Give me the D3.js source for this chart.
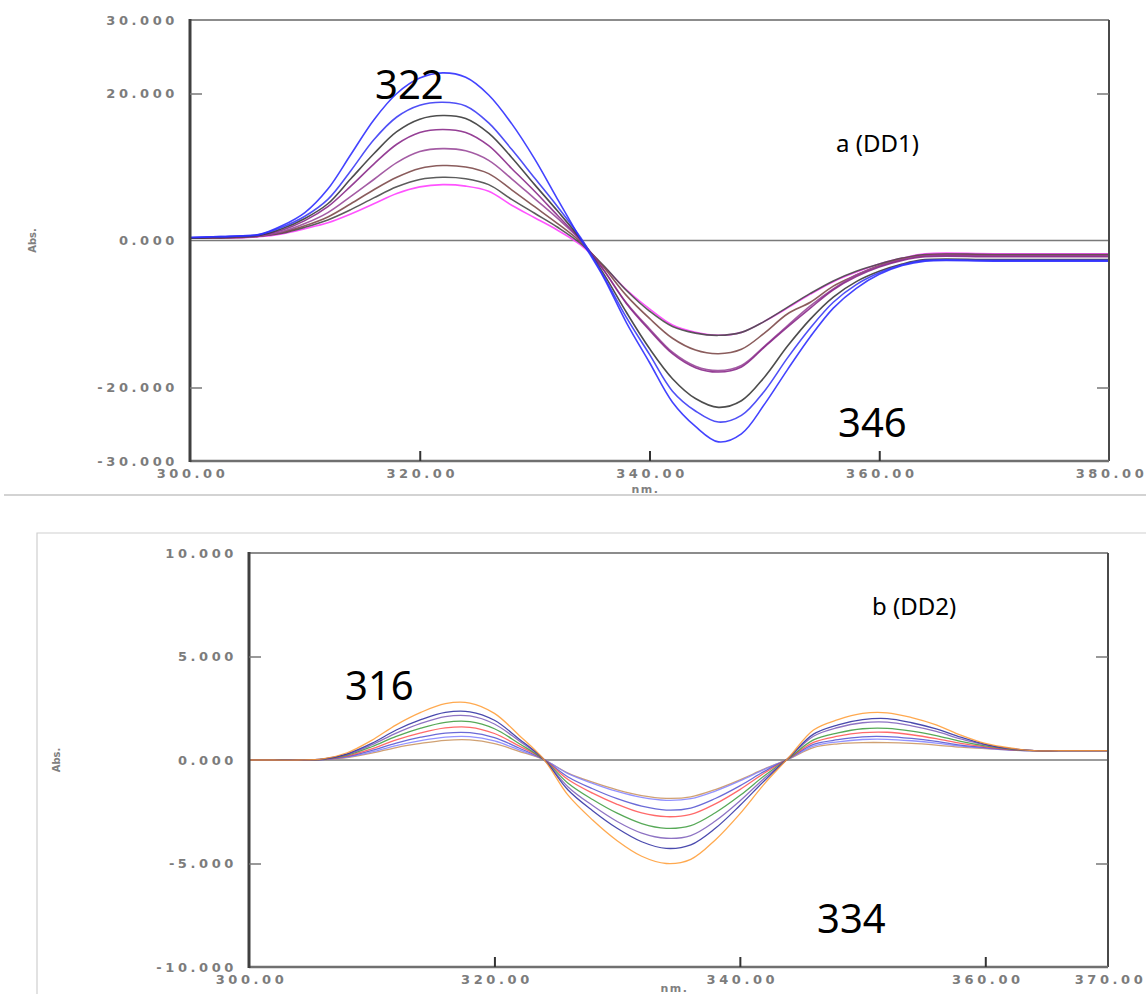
<!DOCTYPE html>
<html>
<head>
<meta charset="utf-8">
<script src="https://cdn.jsdelivr.net/npm/d3@7"></script>
<style>
  body { margin: 0; background: #fff; }
  .tick text {
    font-family: "DejaVu Sans", sans-serif;
    font-weight: bold;
    font-size: 13px;
    fill: #7c7c7c;
    letter-spacing: 3.6px;
  }
  .axlabel { font-family: "DejaVu Sans", sans-serif; font-weight: bold; fill: #808080; }
  .big { font-family: "Noto Sans", "Liberation Sans", sans-serif; fill: #000; }
</style>
</head>
<body>
<svg id="chart" width="1146" height="994"></svg>
<script>
// ---- panel a (DD1) ----
const wlA = [300, 302, 304, 306, 308, 310, 312, 314, 316, 318, 320, 322, 324, 326, 328, 330, 332, 334,
  336, 338, 340, 342, 344, 346, 348, 350, 352, 354, 356, 358, 360, 362, 364, 370, 380];
const blue1A = [0.4, 0.5, 0.6, 0.8, 2.0, 3.8, 7.0, 11.7, 16.4, 20.0, 22.1, 22.8, 22.2, 19.8, 15.9, 11.1, 5.6, 0.2,
  -5.0, -11.2, -16.6, -22.0, -25.3, -27.4, -26.3, -22.3, -17.6, -13.1, -9.2, -6.5, -4.6, -3.4, -2.8, -2.8, -2.8];
const blue2A = [0.4, 0.5, 0.6, 0.8, 1.8, 3.3, 5.6, 9.5, 13.7, 16.8, 18.4, 18.8, 18.3, 16.0, 12.4, 8.5, 4.6, 0.4,
  -4.8, -10.5, -15.5, -20.5, -23.2, -24.7, -23.8, -20.5, -16.0, -11.9, -8.4, -6.0, -4.4, -3.3, -2.7, -2.7, -2.7];
const blackA = [0.3, 0.4, 0.5, 0.7, 1.6, 3.0, 5.0, 8.4, 11.8, 14.8, 16.5, 17.0, 16.6, 14.6, 11.3, 7.6, 4.0, 0.2,
  -4.5, -9.8, -14.7, -18.8, -21.5, -22.7, -21.8, -18.6, -14.4, -10.7, -7.7, -5.6, -4.2, -3.2, -2.6, -2.6, -2.6];
const purple1A = [0.3, 0.4, 0.5, 0.7, 1.4, 2.7, 4.6, 7.4, 10.4, 13.1, 14.7, 15.1, 14.7, 12.9, 9.8, 6.7, 3.4, 0.1,
  -4.0, -8.6, -12.2, -15.4, -17.3, -17.9, -17.2, -14.5, -11.8, -9.2, -6.7, -4.9, -3.6, -2.7, -2.2, -2.2, -2.2];
const purple2A = [0.3, 0.4, 0.5, 0.6, 1.2, 2.3, 3.8, 6.0, 8.3, 10.6, 12.1, 12.5, 12.2, 10.9, 8.4, 5.7, 3.0, 0.0,
  -4.0, -8.5, -12.0, -15.2, -17.1, -17.7, -17.0, -14.4, -11.6, -8.9, -6.6, -4.7, -3.5, -2.6, -2.1, -2.1, -2.1];
const brownA = [0.3, 0.35, 0.4, 0.6, 1.1, 2.0, 3.2, 5.0, 6.9, 8.6, 9.8, 10.2, 10.0, 9.1, 6.9, 4.6, 2.3, -0.2,
  -3.6, -7.5, -10.6, -13.3, -14.9, -15.4, -14.8, -12.6, -10.0, -8.4, -6.2, -4.7, -3.4, -2.5, -2.0, -2.0, -2.0];
const grayA = [0.3, 0.35, 0.4, 0.6, 1.0, 1.8, 2.8, 4.2, 5.8, 7.3, 8.3, 8.6, 8.4, 7.6, 5.6, 3.7, 1.8, -0.4,
  -3.4, -6.8, -9.6, -11.7, -12.6, -12.9, -12.5, -11.0, -9.1, -7.2, -5.5, -4.2, -3.2, -2.4, -1.9, -1.9, -1.9];
const magentaA = [0.3, 0.3, 0.35, 0.5, 0.9, 1.6, 2.4, 3.6, 5.0, 6.4, 7.3, 7.6, 7.4, 6.7, 4.8, 3.1, 1.4, -0.6,
  -3.5, -6.7, -9.3, -11.5, -12.5, -12.9, -12.5, -11.0, -9.2, -7.3, -5.6, -4.3, -3.2, -2.4, -1.8, -1.8, -1.8];
const seriesA = [magentaA, grayA, brownA, purple2A, purple1A, blackA, blue2A, blue1A];
const colorsA = ["#ff40ff", "#4a4a4a", "#7d4a4a", "#9a4a9a", "#8a2a8a", "#3a3a3a", "#3c3cf5", "#2f2fff"];
const yTicksA = [30, 20, 0, -20, -30];
const xTicksA = [300, 320, 340, 360, 380];

// ---- panel b (DD2) ----
const wlB = [300, 302, 304, 306, 308, 310, 312, 314, 316, 318, 320, 322, 324, 326, 328, 330, 332, 334,
  336, 338, 340, 342, 344, 346, 348, 350, 352, 354, 356, 358, 360, 362, 364, 366, 370];
const orangeB = [0, 0, 0, 0.05, 0.35, 0.95, 1.7, 2.3, 2.72, 2.75, 2.25, 1.2, 0.05, -1.7, -2.9, -3.9, -4.65, -5.0,
  -4.8, -3.86, -2.6, -1.15, 0.13, 1.45, 1.95, 2.25, 2.28, 2.05, 1.7, 1.2, 0.8, 0.58, 0.45, 0.45, 0.45];
const navyB = [0, 0, 0, 0.04, 0.3, 0.8, 1.45, 1.95, 2.3, 2.33, 1.92, 1.02, 0.05, -1.45, -2.45, -3.3, -3.95, -4.27,
  -4.1, -3.3, -2.2, -1.0, 0.12, 1.25, 1.7, 1.95, 2.0, 1.8, 1.5, 1.1, 0.76, 0.56, 0.45, 0.45, 0.45];
const purpleB = [0, 0, 0, 0.04, 0.27, 0.73, 1.3, 1.77, 2.1, 2.13, 1.74, 0.93, 0.05, -1.3, -2.2, -2.97, -3.53, -3.78,
  -3.65, -2.95, -1.98, -0.88, 0.11, 1.15, 1.57, 1.8, 1.83, 1.65, 1.38, 1.02, 0.73, 0.55, 0.45, 0.45, 0.45];
const greenB = [0, 0, 0, 0.03, 0.23, 0.64, 1.14, 1.54, 1.82, 1.85, 1.51, 0.8, 0.04, -1.12, -1.91, -2.57, -3.07, -3.3,
  -3.17, -2.55, -1.72, -0.76, 0.09, 0.97, 1.31, 1.51, 1.53, 1.4, 1.18, 0.9, 0.68, 0.53, 0.45, 0.45, 0.45];
const redB = [0, 0, 0, 0.03, 0.2, 0.54, 0.97, 1.31, 1.55, 1.58, 1.28, 0.68, 0.04, -0.94, -1.6, -2.14, -2.56, -2.74,
  -2.63, -2.12, -1.43, -0.63, 0.08, 0.85, 1.15, 1.32, 1.34, 1.22, 1.03, 0.8, 0.63, 0.5, 0.45, 0.45, 0.45];
const blueB = [0, 0, 0, 0.02, 0.17, 0.46, 0.82, 1.1, 1.3, 1.32, 1.08, 0.58, 0.03, -0.82, -1.39, -1.87, -2.23, -2.42,
  -2.32, -1.86, -1.25, -0.55, 0.07, 0.75, 0.98, 1.12, 1.13, 1.04, 0.9, 0.72, 0.6, 0.5, 0.45, 0.45, 0.45];
const lightBlueB = [0, 0, 0, 0.02, 0.14, 0.39, 0.7, 0.94, 1.11, 1.13, 0.92, 0.49, 0.03, -0.66, -1.13, -1.52, -1.81, -1.95,
  -1.87, -1.5, -1.01, -0.45, 0.06, 0.67, 0.88, 0.99, 1.0, 0.93, 0.82, 0.67, 0.57, 0.48, 0.45, 0.45, 0.45];
const brownB = [0, 0, 0, 0.02, 0.12, 0.33, 0.6, 0.8, 0.95, 0.97, 0.79, 0.42, 0.02, -0.63, -1.07, -1.44, -1.72, -1.85,
  -1.78, -1.43, -0.96, -0.43, 0.05, 0.6, 0.78, 0.84, 0.84, 0.8, 0.72, 0.62, 0.55, 0.48, 0.45, 0.45, 0.45];
const seriesB = [brownB, lightBlueB, blueB, redB, greenB, purpleB, navyB, orangeB];
const colorsB = ["#c8905a", "#8080ff", "#5050d0", "#ff5050", "#3a9a3a", "#7a5ab8", "#2a2aa0", "#ff9a30"];
const yTicksB = [10, 5, 0, -5, -10];
const xTicksB = [300, 320, 340, 360, 370];

const svg = d3.select("#chart");

// separators from the pasted figure
svg.append("line").attr("x1", 4).attr("x2", 1146).attr("y1", 495).attr("y2", 495)
  .attr("stroke", "#c4c4c4").attr("stroke-width", 1.5);
svg.append("path").attr("d", "M37,994 L37,533 L1146,533")
  .attr("fill", "none").attr("stroke", "#cfcfcf").attr("stroke-width", 1.2);

function drawPanel(p) {
  const x = d3.scaleLinear().domain(p.xDomain).range(p.xRange);
  const y = d3.scaleLinear().domain(p.yDomain).range(p.yRange);
  const g = svg.append("g");
  const [x0, x1] = p.xRange;
  const [y0, y1] = p.yRange; // y0 = top, y1 = bottom

  // zero line
  g.append("line").attr("x1", x0).attr("x2", x1).attr("y1", y(0)).attr("y2", y(0))
    .attr("stroke", "#7a7a7a").attr("stroke-width", 1.6);

  // curves
  const line = d3.line()
    .x((d) => x(d[0]))
    .y((d) => y(d[1]))
    .curve(d3.curveCatmullRom.alpha(0.5));
  p.series.forEach((s, i) => {
    g.append("path")
      .datum(p.wl.map((w, j) => [w, s[j]]))
      .attr("fill", "none")
      .attr("stroke", p.colors[i])
      .attr("stroke-width", p.lw)
      .attr("stroke-opacity", p.op)
      .attr("stroke-linejoin", "round")
      .attr("d", line);
  });

  // frame
  g.append("line").attr("x1", x0).attr("x2", x1).attr("y1", y0).attr("y2", y0)
    .attr("stroke", "#8c8c8c").attr("stroke-width", 2);
  g.append("line").attr("x1", x1).attr("x2", x1).attr("y1", y0).attr("y2", y1)
    .attr("stroke", "#4a4a4a").attr("stroke-width", 2);
  g.append("line").attr("x1", x0).attr("x2", x1).attr("y1", y1).attr("y2", y1)
    .attr("stroke", "#707070").attr("stroke-width", 2.5);
  g.append("line").attr("x1", x0).attr("x2", x0).attr("y1", y0 - 1).attr("y2", y1 + 1)
    .attr("stroke", "#404040").attr("stroke-width", 3);

  // y axis labels + inward ticks
  const inner = p.yTicks.slice(1, -1).filter((v) => v !== 0);
  g.append("g").attr("transform", `translate(${x0},0)`)
    .call(d3.axisLeft(y).tickValues(p.yTicks).tickSize(0).tickPadding(12).tickFormat((d) => d.toFixed(3)))
    .call((a) => a.select(".domain").remove());
  g.append("g").attr("transform", `translate(${x0},0)`)
    .call(d3.axisLeft(y).tickValues(inner).tickSize(-12).tickFormat(""))
    .call((a) => a.select(".domain").remove())
    .selectAll("line").attr("stroke", "#777").attr("stroke-width", 1.5);
  g.append("g").attr("transform", `translate(${x1},0)`)
    .call(d3.axisRight(y).tickValues(inner).tickSize(-12).tickFormat(""))
    .call((a) => a.select(".domain").remove())
    .selectAll("line").attr("stroke", "#777").attr("stroke-width", 1.5);

  // x axis labels + inward ticks
  g.append("g").attr("transform", `translate(0,${y1})`)
    .call(d3.axisBottom(x).tickValues(p.xTicks).tickSize(0).tickPadding(8).tickFormat((d) => d.toFixed(2)))
    .call((a) => a.select(".domain").remove())
    .selectAll("text").attr("dx", "2px");
  g.append("g").attr("transform", `translate(0,${y1})`)
    .call(d3.axisBottom(x).tickValues(p.xTicks.slice(1, -1)).tickSize(-10).tickFormat(""))
    .call((a) => a.select(".domain").remove())
    .selectAll("line").attr("stroke", "#333").attr("stroke-width", 2);

  // axis titles
  g.append("text").attr("class", "axlabel")
    .attr("x", (x0 + x1) / 2 - 4).attr("y", y1 + p.nmDy)
    .attr("text-anchor", "middle").attr("font-size", 11).attr("letter-spacing", "1.5px")
    .text("nm.");
  g.append("text").attr("class", "axlabel")
    .attr("transform", `translate(${p.absX},${y(0)}) rotate(-90)`)
    .attr("text-anchor", "middle").attr("font-size", 10)
    .text("Abs.");

  // annotations
  p.notes.forEach((n) => {
    g.append("text").attr("class", "big")
      .attr("x", n.x).attr("y", n.y).attr("font-size", n.size)
      .text(n.text);
  });
}

drawPanel({
  wl: wlA, series: seriesA, colors: colorsA, lw: 1.6, op: 0.9,
  xDomain: [300, 380], xRange: [190, 1109],
  yDomain: [30, -30], yRange: [20, 461],
  yTicks: yTicksA, xTicks: xTicksA, absX: 36, nmDy: 32,
  notes: [
    { text: "322", x: 375, y: 99, size: 40 },
    { text: "a (DD1)", x: 836, y: 152, size: 24 },
    { text: "346", x: 838, y: 437, size: 40 }
  ]
});

drawPanel({
  wl: wlB, series: seriesB, colors: colorsB, lw: 1.3, op: 0.85,
  xDomain: [300, 370], xRange: [249, 1108],
  yDomain: [10, -10], yRange: [553, 967],
  yTicks: yTicksB, xTicks: xTicksB, absX: 60, nmDy: 25,
  notes: [
    { text: "316", x: 345, y: 700, size: 40 },
    { text: "b (DD2)", x: 872, y: 615, size: 24 },
    { text: "334", x: 817, y: 933, size: 40 }
  ]
});
</script>
</body>
</html>
